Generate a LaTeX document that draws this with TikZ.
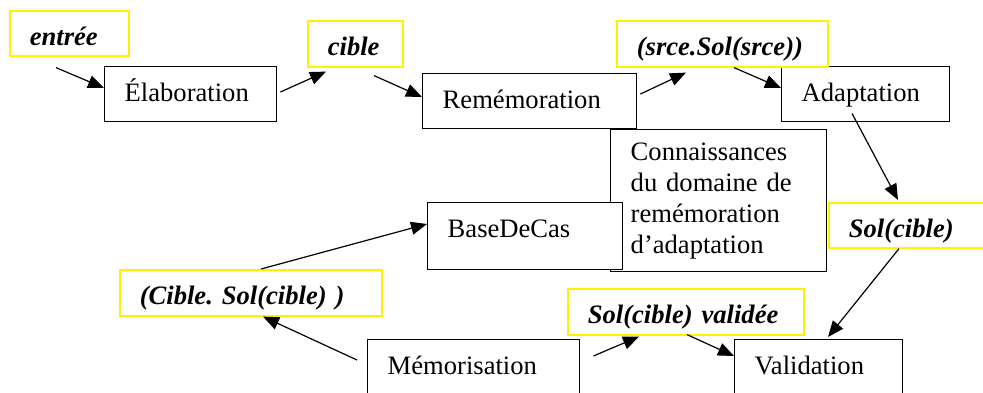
\documentclass[tikz,border=0pt]{standalone}
\usepackage{fontspec}
\setmainfont{Liberation Serif}[
  BoldFont=Liberation Serif Bold,
  ItalicFont=Liberation Serif Italic,
  BoldItalicFont=Liberation Serif Bold Italic]
\usetikzlibrary{arrows.meta}
\frenchspacing
\begin{document}
\begin{tikzpicture}[x=0.5pt,y=-0.5pt,
    boite/.style={draw=black, line width=0.7pt, fill=white, anchor=north west,
      inner xsep=10pt, inner ysep=3pt, text height=14.5pt, align=left,
      font=\fontsize{13.3}{15.5}\selectfont},
    donnee/.style={boite, draw=yellow, line width=0.8pt,
      font=\fontsize{13.3}{15.5}\selectfont\bfseries\itshape},
    fleche/.style={-{Triangle[length=8pt,width=6.5pt]}, line width=0.6pt}]
    \useasboundingbox (0,0) rectangle (983,392);

    % 处理步骤
    \node [boite,text width=66pt,text depth=7pt] (elab) at (104,66) {Élaboration};
    \node [boite,text width=87pt,text depth=7pt] (remem) at (422,73) {Remémoration};
    \node [boite,text width=64pt,text depth=7pt] (adapt) at (781,66) {Adaptation};
    \node [boite,text width=88pt,text height=,text depth=,inner ysep=6pt,minimum height=71pt] (conn) at (610,129)
      {Connaissances\\du domaine de\\remémoration\\d’adaptation};
    \node [boite,text width=77.5pt,text depth=13pt] (base) at (427,202) {BaseDeCas};
    \node [boite,text width=86pt,text depth=9.5pt] (memo) at (367,339) {Mémorisation};
    \node [boite,text width=64pt,text depth=9.5pt] (valid) at (734,339) {Validation};

    % 数据
    \node [donnee,text width=39.5pt,text depth=2pt] (entree) at (9,10) {entrée};
    \node [donnee,text width=27.5pt,text depth=2.5pt] (cible) at (307,20) {cible};
    \node [donnee,text width=85.5pt,text depth=2.5pt] (srce) at (616,20) {(srce.Sol(srce))};
    \node [donnee,text width=65pt,text depth=2pt] (solc) at (828,202) {Sol(cible)};
    \node [donnee,text width=111pt,text depth=2.5pt] (cibsol) at (119,269) {(Cible. Sol(cible) )};
    \node [donnee,text width=98pt,text depth=2.5pt] (valide) at (567,288) {Sol(cible) validée};

    % 箭头
    \draw [fleche] ([shift={(47,11)}]entree.south west) -- ([shift={(0,22)}]elab.north west);
    \draw [fleche] ([shift={(3,26)}]elab.north east) -- ([shift={(19,4)}]cible.south west);
    \draw [fleche] ([shift={(67,8)}]cible.south west) -- ([shift={(0,24)}]remem.north west);
    \draw [fleche] ([shift={(3,21)}]remem.north east) -- ([shift={(70,5)}]srce.south west);
    \draw [fleche] ([shift={(118,0)}]srce.south west) -- ([shift={(0,22)}]adapt.north west);
    \draw [fleche] ([shift={(71,-9)}]adapt.south west) -- ([shift={(70,-2)}]solc.north west);
    \draw [fleche] ([shift={(71,0)}]solc.south west) -- ([shift={(94,-2)}]valid.north west);
    \draw [fleche] ([shift={(13,17)}]memo.north east) -- ([shift={(72,1)}]valide.south west);
    \draw [fleche] ([shift={(120,-1)}]valide.south west) -- ([shift={(0,17)}]valid.north west);
    \draw [fleche] ([shift={(-10,21)}]memo.north west) -- ([shift={(144,0)}]cibsol.south west);
    \draw [fleche] ([shift={(142,0)}]cibsol.north west) -- ([shift={(0,22)}]base.north west);

\end{tikzpicture}
\end{document}
